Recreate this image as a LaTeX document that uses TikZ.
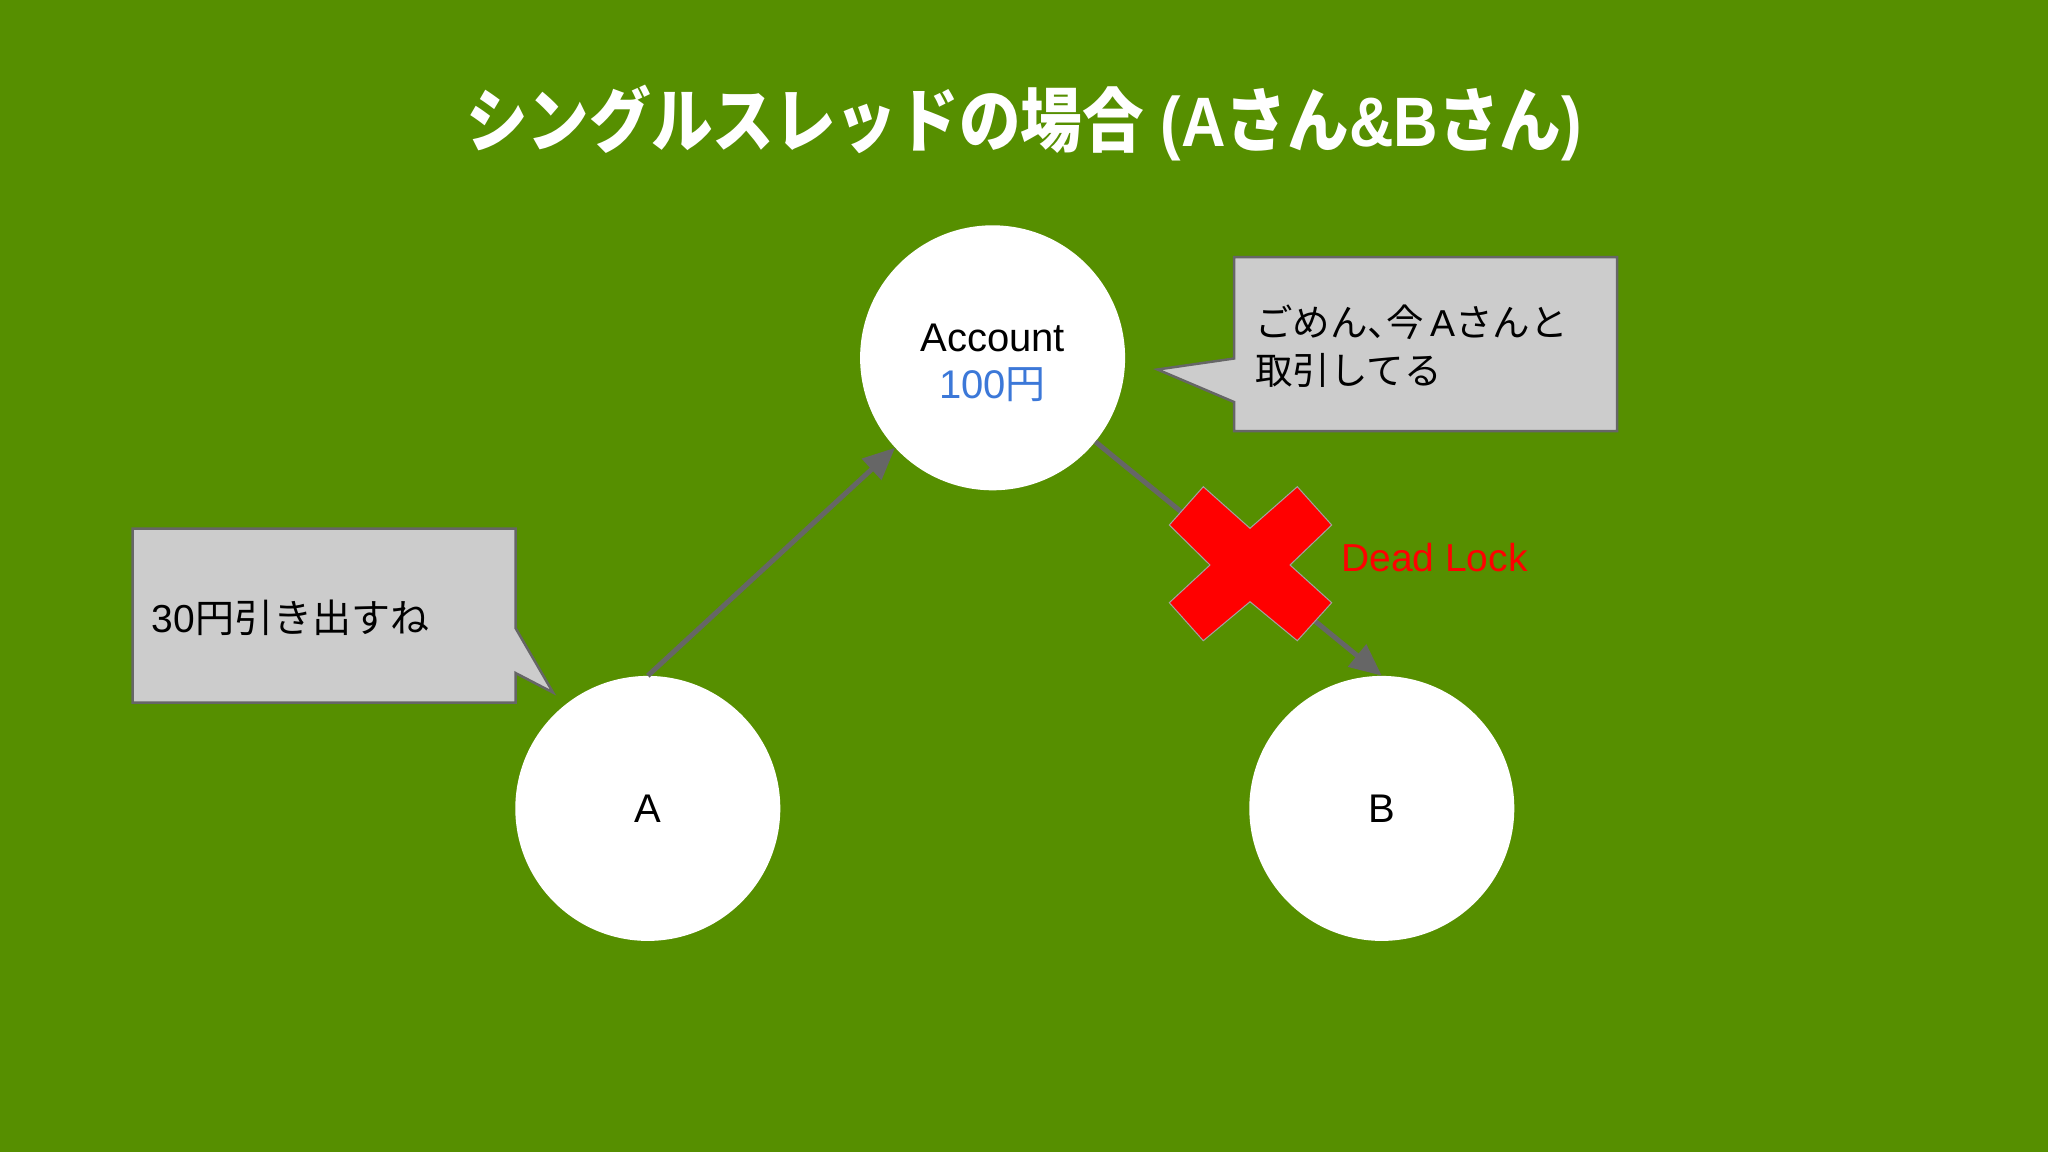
\documentclass[tikz,border=0pt]{standalone}
\usepackage{fontspec}
\setmainfont{Liberation Sans}
\newfontfamily\jp{Noto Sans CJK JP}
\newfontfamily\jphalf{Noto Sans CJK JP}[RawFeature=+halt]
\usetikzlibrary{arrows.meta}
\definecolor{bggreen}{RGB}{86,143,0}
\definecolor{arrgray}{RGB}{102,102,102}
\definecolor{boxgray}{RGB}{204,204,204}
\definecolor{moneyblue}{RGB}{60,120,216}
\tikzset{
  acct/.style={circle,fill=white,minimum size=265pt,inner sep=0pt,font=\fontsize{40}{47}\selectfont,align=center},
  conn/.style={draw=arrgray,line width=5pt,-{Triangle[length=32pt,width=28pt]}},
  callout/.style={fill=boxgray,draw=arrgray,line width=2.5pt,line join=miter},
  saytext/.style={font=\fontsize{39}{48}\selectfont,anchor=base west,inner sep=0pt,align=left,text=black},
}
\begin{document}
\begin{tikzpicture}[x=1pt,y=-1pt]
\fill[bggreen] (0,0) rectangle (2048,1152);
\useasboundingbox (0,0) rectangle (2048,1152);

\node[text=white,font=\fontsize{70}{76}\selectfont\bfseries,xscale=0.88] (title) at (1024,123)
  {{\jp シングルスレッドの場合} ({\bfseries A}{\jp さん}\&B{\jp さん})};

\node[acct] (acc) at (992.6,357.8) {\rule{0pt}{37pt}Account\\\textcolor{moneyblue}{100{\jp 円}}};
\node[acct] (A) at (647.8,808.4) {A};
\node[acct] (B) at (1381.8,808.4) {B};

\draw[conn] (A.north) -- (acc);
\draw[conn] (acc) -- (B.north);

% red cross
\fill[red,draw=arrgray!60,line width=1pt] (1203.3,486.7) -- (1169.3,525) -- (1210,565) -- (1169.3,602.7) -- (1203.3,640.7) -- (1250,601.7) -- (1297.3,640.7) -- (1331.7,602.7) -- (1290,565) -- (1331.7,525) -- (1297.3,486.7) -- (1250,528.3) -- cycle;
\node[text=red,font=\fontsize{39}{46}\selectfont,anchor=base west,inner sep=0pt] (dl) at (1341,571.5) {Dead Lock};

% callout right
\path[callout] (1234,257) -- (1617,257) -- (1617,431) -- (1234,431) -- (1234,402) -- (1157.5,369.5) -- (1234,358.5) -- cycle;
\node[saytext,font=\fontsize{37.5}{48}\selectfont] (say1) at (1255,384) {{\jp ごめん}{\jphalf 、}{\jp 今}\,A{\jp さんと}\\{\jp 取引してる}};

% callout left
\path[callout] (132.5,528.5) -- (515.5,528.5) -- (515.5,628) -- (553,692.5) -- (515.5,673) -- (515.5,702.5) -- (132.5,702.5) -- cycle;
\node[saytext] (say2) at (151.5,632) {30{\jp 円引き出すね}};
\end{tikzpicture}
\end{document}
